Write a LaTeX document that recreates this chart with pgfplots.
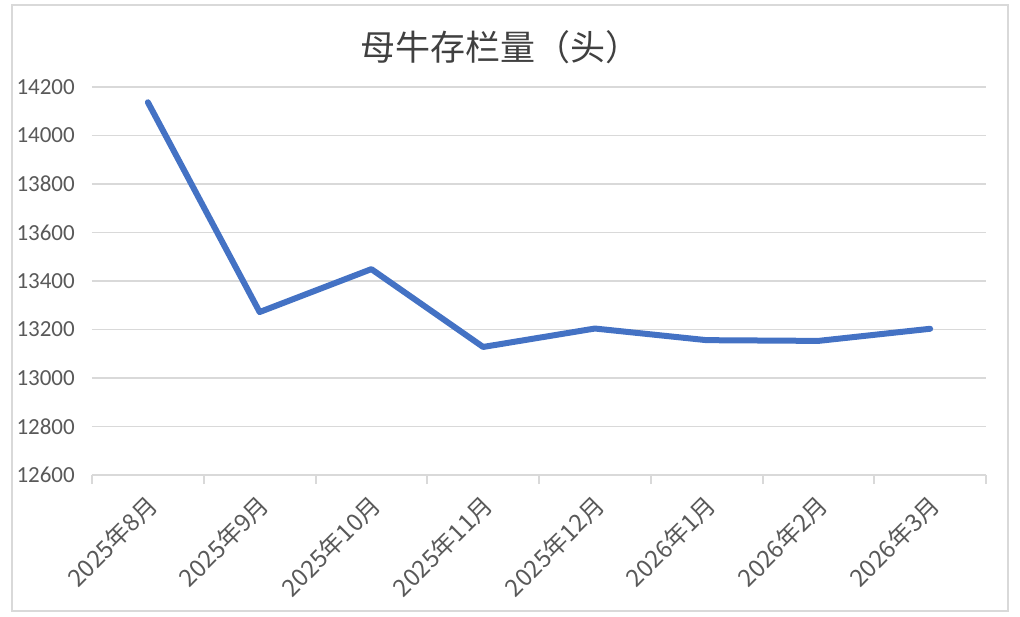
\documentclass[border=0pt]{standalone}
\usepackage{pgfplots}
\pgfplotsset{compat=1.18}
\usepackage{fontspec}
\setmainfont{Carlito}
\newfontfamily\cjk{Noto Sans CJK SC}
\definecolor{linec}{HTML}{4472C4}
\definecolor{gridc}{HTML}{D9D9D9}
\definecolor{txtc}{HTML}{595959}
\definecolor{titc}{HTML}{404040}
\begin{document}
\begin{tikzpicture}
\path[use as bounding box] (0pt,0pt) rectangle (1020pt,616pt);
\draw[gridc,line width=1.5pt] (12pt,5pt) rectangle (1008pt,611pt);
\node[font=\cjk\fontsize{35}{35}\selectfont,text=titc] at (500pt,569pt) {母牛存栏量（头）};
\begin{axis}[at={(92pt,141pt)},anchor=south west,scale only axis,
 width=894pt,height=388pt,
 xmin=-0.5,xmax=7.5,ymin=12600,ymax=14200,
 ytick={12600,12800,...,14200},
 scaled y ticks=false,
 xtick={0,...,7},
 xticklabels={2025年8月,2025年9月,2025年10月,2025年11月,2025年12月,2026年1月,2026年2月,2026年3月},
 minor xtick={-0.5,0.5,...,7.5},
 major tick length=0pt,minor tick length=9pt,tick align=outside,
 axis x line*=bottom,axis y line*=left,
 y axis line style={draw=none},
 x axis line style={gridc,line width=2pt},
 minor x tick style={gridc,line width=2pt},
 ytick style={draw=none},
 ymajorgrids,grid style={gridc,line width=1.3pt},
 yticklabel style={font=\fontsize{23}{23}\selectfont,text=txtc,inner sep=0pt,anchor=east,xshift=-17pt},
 xticklabel style={font=\cjk\fontsize{24}{24}\selectfont,text=txtc,inner sep=0pt,xshift=-3pt,yshift=-18pt,rotate=45,anchor=north east},
 /pgf/number format/assume math mode=true,
 /pgf/number format/1000 sep={},
 clip=false]
\addplot[linec,line width=6pt,line cap=round,line join=round] coordinates {
 (0,14137) (1,13272) (2,13449) (3,13128) (4,13204) (5,13156) (6,13153) (7,13203)};
\end{axis}
\end{tikzpicture}
\end{document}
